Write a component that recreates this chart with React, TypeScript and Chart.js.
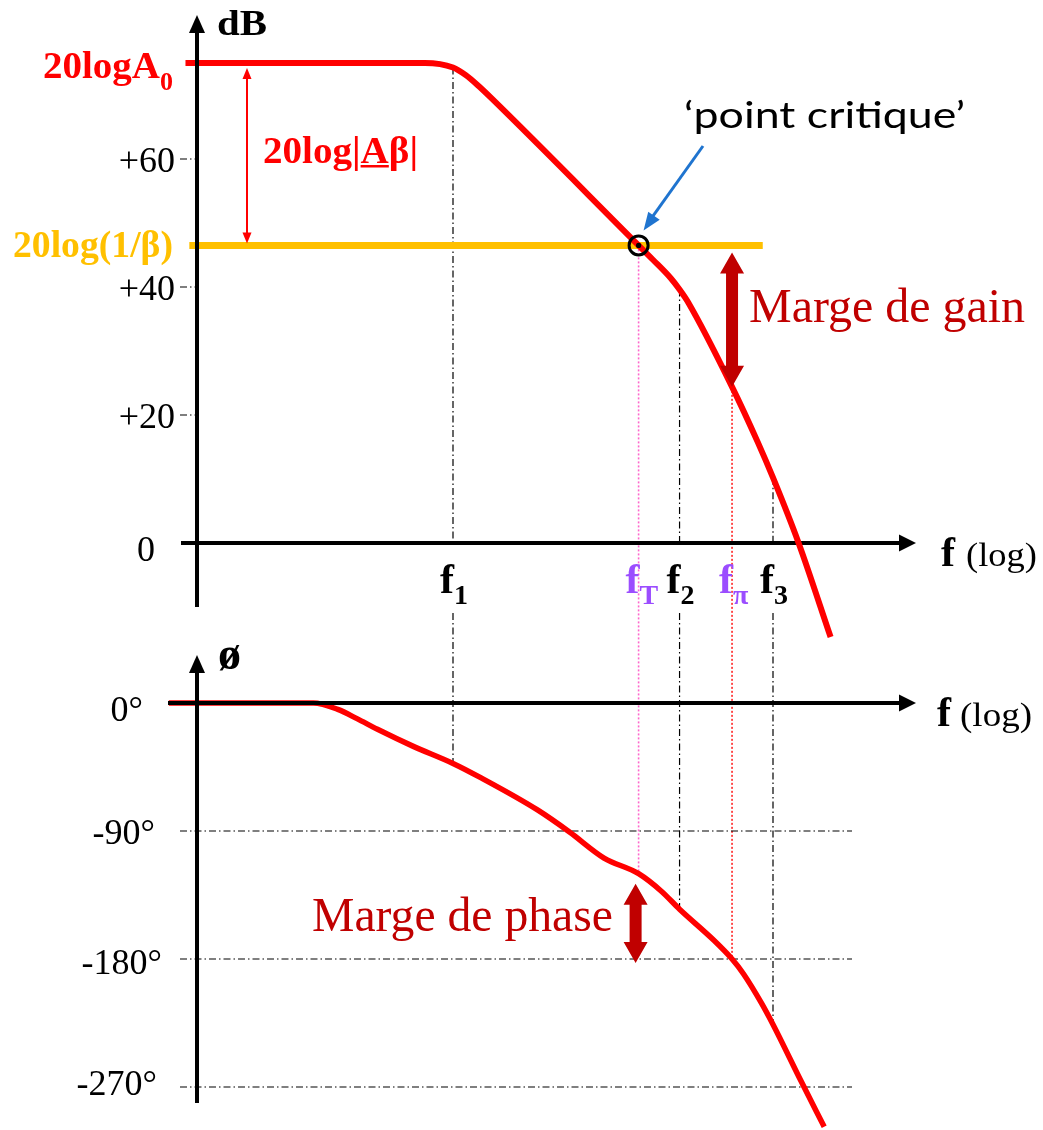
import React, { useEffect, useRef } from 'react';
import { Chart, registerables } from 'chart.js';

Chart.register(...registerables);

// ---- data ---------------------------------------------------------------
// Frequency is plotted as log10(f), one unit per decade.

// open-loop gain 20log|Aβ| (dB)
const gainLogF = [-0.09, 1.78, 2.0, 2.1, 2.2, 2.3, 3.45, 3.56, 3.7, 3.77, 3.84, 4.18, 4.38, 4.5, 4.7, 4.95];
const gainDb = [75, 75, 74.3, 73.1, 71.4, 69.5, 46.5, 44.3, 41.4, 39.6, 37.5, 24.4, 15.8, 10.2, 0, -14.7];

// phase of Aβ (degrees)
const phaseLogF = [-0.22, 0.91, 1.1, 1.25, 1.41, 1.69, 2.0, 2.22, 2.66, 2.91, 3.18, 3.45, 3.63, 3.77, 4.04, 4.18, 4.27, 4.41, 4.5, 4.72, 4.9];
const phaseDeg = [0, 0, -4.5, -11, -18.5, -30.5, -42.5, -52.7, -75.2, -90.7, -109, -120, -132.5, -145, -167, -180, -190.5, -211, -226, -266, -298];

// 20log(1/β) level and the span it is drawn over
const feedbackDb = 46.5;
const feedbackLogF = [-0.06, 4.42];

// characteristic frequencies f1, fT, f2, fπ, f3
const markerSub = ['1', 'T', '2', 'π', '3'];
const markerLogF = [2.0, 3.45, 3.77, 4.18, 4.5];
const markerGainDb = [74.3, 46.5, 39.6, 24.4, 10.2];
const markerPhaseDeg = [-42.5, -120, -145, -180, -226];

const gainTicks = [60, 40, 20, 0];
const gainTickLabels = ['+60', '+40', '+20', '0'];
const phaseTicks = [0, -90, -180, -270];
const phaseTickLabels = ['0°', '-90°', '-180°', '-270°'];
const phaseGrid = [-90, -180, -270];

// ---- layout ---------------------------------------------------------------
const W = 1043;
const H = 1130;
const X0_PX = 197; // log f = 0 (vertical axes)
const DECADE_PX = 128;
const GAIN0_PX = 543; // 0 dB
const PX_PER_DB = 6.4;
const PHASE0_PX = 703; // 0°
const PX_PER_DEG = 128 / 90;

const RED = '#FF0000';
const DARK_RED = '#C00000';
const ORANGE = '#FFC000';
const PURPLE = '#9B4DFF';
const PINK = '#FF66CC';
const BLUE = '#1F74CF';
const SERIF = '"Liberation Serif", "Times New Roman", serif';
const SANS = 'Lato, "Open Sans", sans-serif';
const DASH_DOT = [7, 3, 1.5, 3];

const markerStyle = ['dashdot', 'pink', 'dashdot', 'red', 'dashdot'];
const markerColor = ['#000', PURPLE, '#000', PURPLE, '#000'];
const gainLabelRight = [175, 175, 175, 155];
const gainLabelDrop = [13, 13, 13, 18];
const phaseLabelRight = [143, 155, 162, 157];
const phaseLabelDrop = [18, 13, 15, 8];

type Ctx = CanvasRenderingContext2D;

function seg(ctx: Ctx, x1: number, y1: number, x2: number, y2: number, color: string, width: number, dash: number[] = []) {
  ctx.save();
  ctx.strokeStyle = color;
  ctx.lineWidth = width;
  ctx.setLineDash(dash);
  ctx.beginPath();
  ctx.moveTo(x1, y1);
  ctx.lineTo(x2, y2);
  ctx.stroke();
  ctx.restore();
}

function head(ctx: Ctx, tx: number, ty: number, dx: number, dy: number, len: number, half: number, color: string) {
  const n = Math.hypot(dx, dy);
  const ux = dx / n;
  const uy = dy / n;
  const bx = tx - ux * len;
  const by = ty - uy * len;
  ctx.save();
  ctx.fillStyle = color;
  ctx.beginPath();
  ctx.moveTo(tx, ty);
  ctx.lineTo(bx - uy * half, by + ux * half);
  ctx.lineTo(bx + uy * half, by - ux * half);
  ctx.closePath();
  ctx.fill();
  ctx.restore();
}

function fatDoubleArrow(ctx: Ctx, x: number, yTop: number, yBot: number, color: string) {
  const sw = 6;
  const hw = 12;
  const hl = 21;
  ctx.save();
  ctx.fillStyle = color;
  ctx.beginPath();
  ctx.moveTo(x, yTop);
  ctx.lineTo(x + hw, yTop + hl);
  ctx.lineTo(x + sw, yTop + hl);
  ctx.lineTo(x + sw, yBot - hl);
  ctx.lineTo(x + hw, yBot - hl);
  ctx.lineTo(x, yBot);
  ctx.lineTo(x - hw, yBot - hl);
  ctx.lineTo(x - sw, yBot - hl);
  ctx.lineTo(x - sw, yTop + hl);
  ctx.lineTo(x - hw, yTop + hl);
  ctx.closePath();
  ctx.fill();
  ctx.restore();
}

// draws text on its baseline, optionally stretched to a given width; returns the x scale used
function text(ctx: Ctx, s: string, x: number, y: number, font: string, color: string, width?: number, align: 'left' | 'right' = 'left') {
  ctx.save();
  ctx.font = font;
  ctx.fillStyle = color;
  ctx.textAlign = 'left';
  ctx.textBaseline = 'alphabetic';
  const w = ctx.measureText(s).width;
  const sx = width ? width / w : 1;
  const left = align === 'right' ? x - w * sx : x;
  ctx.translate(left, y);
  ctx.scale(sx, 1);
  ctx.fillText(s, 0, 0);
  ctx.restore();
  return sx;
}

const bodePlugin = {
  id: 'bodeDecor',
  beforeDatasetsDraw(chart: any) {
    const ctx: Ctx = chart.ctx;
    const sx = chart.scales.x;
    const sg = chart.scales.yMag;
    const sp = chart.scales.yPh;
    const X = (v: number) => sx.getPixelForValue(v);
    const G = (v: number) => sg.getPixelForValue(v);
    const P = (v: number) => sp.getPixelForValue(v);

    // projection lines of the characteristic frequencies
    markerLogF.forEach((lf, i) => {
      const x = X(lf);
      const yTop = G(markerGainDb[i]);
      const yBot = P(markerPhaseDeg[i]);
      if (markerStyle[i] === 'dashdot') {
        seg(ctx, x, yTop, x, G(0), '#000', 1.2, DASH_DOT);
        seg(ctx, x, G(0) + 70, x, yBot, '#000', 1.2, DASH_DOT);
      } else {
        seg(ctx, x, yTop, x, yBot, markerStyle[i] === 'pink' ? PINK : '#FF2222', 1.6, [2, 2]);
      }
    });

    // phase reference lines
    phaseGrid.forEach((d) => seg(ctx, 180, P(d), 852, P(d), '#000', 1.2, DASH_DOT));
    // gain tick marks
    gainTicks.filter((t) => t !== 0).forEach((t) => seg(ctx, 180, G(t), X(0), G(t), '#000', 1.2, DASH_DOT));

    // gain frequency axis (below the curve)
    seg(ctx, 181, G(0), 900, G(0), '#000', 4);
    head(ctx, 916, G(0), 1, 0, 17, 8.5, '#000');
  },
  afterDatasetsDraw(chart: any) {
    const ctx: Ctx = chart.ctx;
    const sx = chart.scales.x;
    const sg = chart.scales.yMag;
    const sp = chart.scales.yPh;
    const X = (v: number) => sx.getPixelForValue(v);
    const G = (v: number) => sg.getPixelForValue(v);
    const P = (v: number) => sp.getPixelForValue(v);
    const ax = X(0);

    // vertical axes
    seg(ctx, ax, 607, ax, 32, '#000', 4);
    head(ctx, ax, 15, 0, -1, 18, 8, '#000');
    seg(ctx, ax, 1103, ax, 672, '#000', 4);
    head(ctx, ax, 655, 0, -1, 18, 8, '#000');
    // phase frequency axis (over the flat part of the curve)
    seg(ctx, 168, P(0), 900, P(0), '#000', 4);
    head(ctx, 916, P(0), 1, 0, 17, 8.5, '#000');

    // 20log|Aβ| span at low frequency
    const ax2 = 247;
    const yA = G(gainDb[0]) + 5;
    const yB = G(feedbackDb) - 2;
    seg(ctx, ax2, yA + 8, ax2, yB - 8, RED, 2);
    head(ctx, ax2, yA, 0, -1, 11, 4.5, RED);
    head(ctx, ax2, yB, 0, 1, 11, 4.5, RED);

    // critical point
    const cx = X(markerLogF[1]);
    const cy = G(feedbackDb);
    ctx.save();
    ctx.strokeStyle = '#000';
    ctx.lineWidth = 3;
    ctx.beginPath();
    ctx.arc(cx, cy, 9.5, 0, Math.PI * 2);
    ctx.stroke();
    ctx.fillStyle = '#000';
    ctx.beginPath();
    ctx.arc(cx, cy, 2.6, 0, Math.PI * 2);
    ctx.fill();
    ctx.restore();
    const tipX = cx + 5;
    const tipY = cy - 15;
    seg(ctx, 703, 146, tipX + 7, tipY - 11, BLUE, 3);
    head(ctx, tipX, tipY, tipX - 703, tipY - 146, 18, 7, BLUE);
    text(ctx, '‘point critique’', 684, 128, `37px ${SANS}`, '#000', 281);

    // gain margin
    fatDoubleArrow(ctx, X(markerLogF[3]), G(feedbackDb) + 7, G(markerGainDb[3]), DARK_RED);
    text(ctx, 'Marge de gain', 749, 322, `48px ${SERIF}`, DARK_RED, 276);
    // phase margin
    fatDoubleArrow(ctx, X(markerLogF[1]) - 3, P(markerPhaseDeg[1]) + 10, P(-180) + 4, DARK_RED);
    text(ctx, 'Marge de phase', 312, 931, `48px ${SERIF}`, DARK_RED, 301);

    // axis titles
    text(ctx, 'dB', 217, 35, `bold 36px ${SERIF}`, '#000', 50);
    text(ctx, 'ø', 218, 669, `bold 46px ${SERIF}`, '#000');
    text(ctx, 'f', 941, 566, `bold 42px ${SERIF}`, '#000');
    text(ctx, '(log)', 966, 566, `34px ${SERIF}`, '#000', 71);
    text(ctx, 'f', 937, 726, `bold 42px ${SERIF}`, '#000');
    text(ctx, '(log)', 960, 726, `34px ${SERIF}`, '#000', 72);

    // level labels
    text(ctx, '20logA', 43, 78, `bold 37px ${SERIF}`, RED, 117);
    text(ctx, '0', 160, 90, `bold 26px ${SERIF}`, RED, 13);
    text(ctx, '20log(1/β)', 13, 257, `bold 37px ${SERIF}`, ORANGE, 160);
    const lbl = '20log|Aβ|';
    const sc = text(ctx, lbl, 263, 163, `bold 38px ${SERIF}`, RED, 155);
    ctx.save();
    ctx.font = `bold 38px ${SERIF}`;
    const pre = ctx.measureText('20log|').width * sc;
    const aw = ctx.measureText('A').width * sc;
    ctx.fillStyle = RED;
    ctx.fillRect(263 + pre, 165, aw, 2.5);
    ctx.restore();

    // tick labels
    gainTicks.forEach((t, i) => {
      text(ctx, gainTickLabels[i], gainLabelRight[i], G(t) + gainLabelDrop[i], `36px ${SERIF}`, '#000', undefined, 'right');
    });
    phaseTicks.forEach((t, i) => {
      text(ctx, phaseTickLabels[i], phaseLabelRight[i], P(t) + phaseLabelDrop[i], `36px ${SERIF}`, '#000', undefined, 'right');
    });

    // frequency labels
    markerLogF.forEach((lf, i) => {
      const x = X(lf) + 1;
      text(ctx, 'f', x, 593, `bold 42px ${SERIF}`, markerColor[i], undefined, 'right');
      text(ctx, markerSub[i], x, 604, `bold 28px ${SERIF}`, markerColor[i]);
    });
  },
};

export default function App() {
  const ref = useRef<HTMLCanvasElement>(null);

  useEffect(() => {
    const canvas = ref.current;
    if (!canvas) return;
    const chart = new Chart(canvas, {
      type: 'line',
      data: {
        datasets: [
          {
            label: '20log|Aβ|',
            data: gainLogF.map((x, i) => ({ x, y: gainDb[i] })),
            xAxisID: 'x',
            yAxisID: 'yMag',
            borderColor: RED,
            borderWidth: 6,
            pointRadius: 0,
            fill: false,
            cubicInterpolationMode: 'monotone',
            borderJoinStyle: 'round',
          },
          {
            label: '20log(1/β)',
            data: feedbackLogF.map((x) => ({ x, y: feedbackDb })),
            xAxisID: 'x',
            yAxisID: 'yMag',
            borderColor: ORANGE,
            borderWidth: 7,
            pointRadius: 0,
            fill: false,
          },
          {
            label: 'phase',
            data: phaseLogF.map((x, i) => ({ x, y: phaseDeg[i] })),
            xAxisID: 'x',
            yAxisID: 'yPh',
            borderColor: RED,
            borderWidth: 5.5,
            pointRadius: 0,
            fill: false,
            cubicInterpolationMode: 'monotone',
            borderJoinStyle: 'round',
          },
        ],
      } as any,
      options: {
        animation: false,
        responsive: false,
        devicePixelRatio: 1,
        events: [],
        layout: { autoPadding: false, padding: 0 },
        plugins: {
          legend: { display: false },
          tooltip: { enabled: false },
          title: { display: false },
        },
        scales: {
          x: { type: 'linear', display: false, min: -X0_PX / DECADE_PX, max: (W - X0_PX) / DECADE_PX },
          yMag: {
            type: 'linear',
            position: 'left',
            display: false,
            min: -(H - GAIN0_PX) / PX_PER_DB,
            max: GAIN0_PX / PX_PER_DB,
          },
          yPh: {
            type: 'linear',
            position: 'left',
            display: false,
            min: -(H - PHASE0_PX) / PX_PER_DEG,
            max: PHASE0_PX / PX_PER_DEG,
          },
        },
      } as any,
      plugins: [bodePlugin],
    });
    return () => chart.destroy();
  }, []);

  return (
    <div style={{ position: 'absolute', left: 0, top: 0, width: W, height: H, background: '#fff' }}>
      <canvas ref={ref} width={W} height={H} style={{ display: 'block', width: W, height: H }} />
    </div>
  );
}
